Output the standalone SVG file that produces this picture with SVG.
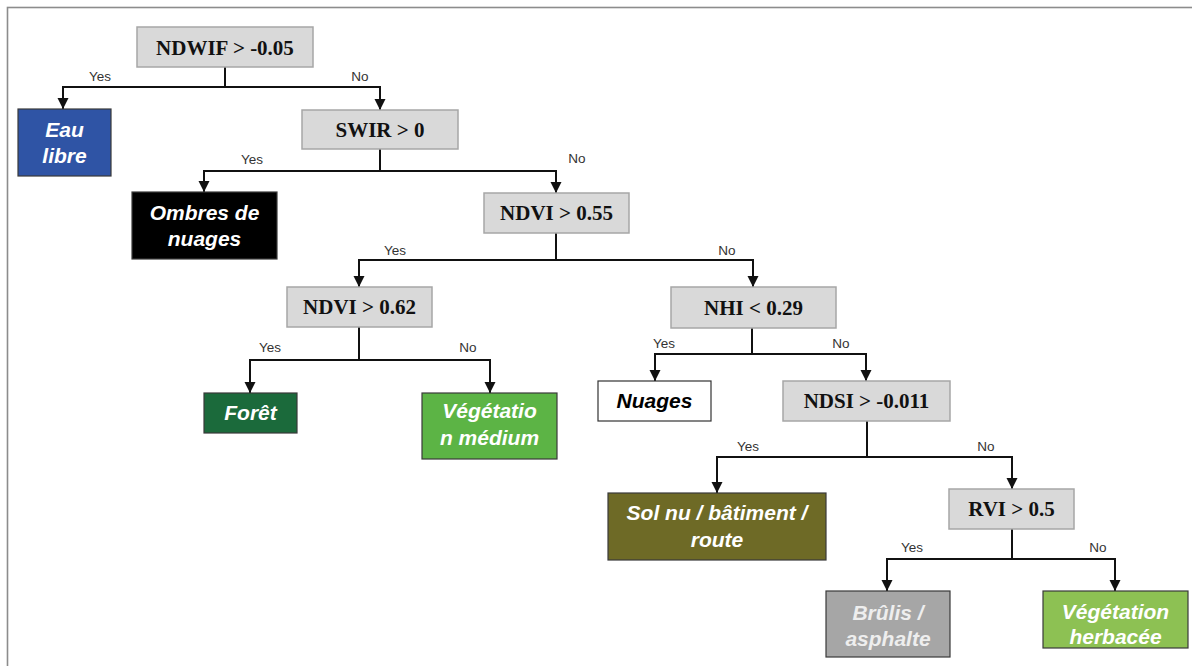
<svg xmlns="http://www.w3.org/2000/svg" width="1192" height="666" viewBox="0 0 1192 666">
<style>
.dec{fill:#d9d9d9;stroke:#a6a6a6;stroke-width:1.5}
.dt{font-family:"Liberation Serif",serif;font-weight:bold;font-size:21px;fill:#111;text-anchor:middle}
.lt{font-family:"Liberation Sans",Arial,sans-serif;font-weight:bold;font-style:italic;font-size:21px;fill:#fff;text-anchor:middle}
.leaf{stroke:#3a3a3a;stroke-width:1.2}
.yn{font-family:"Liberation Sans",Arial,sans-serif;font-size:13.5px;fill:#333;text-anchor:middle}
.c{fill:none;stroke:#111;stroke-width:2}
</style>
<defs>
<marker id="ah" markerUnits="userSpaceOnUse" markerWidth="12" markerHeight="12" refX="11" refY="6" orient="auto">
<path d="M0,0.5 L11,6 L0,11.5 z" fill="#111"/>
</marker>
</defs>
<rect x="0" y="0" width="1192" height="666" fill="#fff"/>
<rect x="7.5" y="7.5" width="1200" height="700" fill="none" stroke="#8c8c8c" stroke-width="1.6"/>

<g id="connectors">
<path class="c" d="M225,67 V87"/>
<path class="c" d="M225,87 H63 V109" marker-end="url(#ah)"/>
<path class="c" d="M225,87 H380 V110" marker-end="url(#ah)"/>
<path class="c" d="M380,149 V171"/>
<path class="c" d="M380,171 H204 V192" marker-end="url(#ah)"/>
<path class="c" d="M380,171 H556 V193" marker-end="url(#ah)"/>
<path class="c" d="M556,233 V260"/>
<path class="c" d="M556,260 H359 V287" marker-end="url(#ah)"/>
<path class="c" d="M556,260 H753 V287" marker-end="url(#ah)"/>
<path class="c" d="M359,327 V360"/>
<path class="c" d="M359,360 H250 V393" marker-end="url(#ah)"/>
<path class="c" d="M359,360 H490 V393" marker-end="url(#ah)"/>
<path class="c" d="M752,328 V354"/>
<path class="c" d="M752,354 H655 V381" marker-end="url(#ah)"/>
<path class="c" d="M752,354 H866 V381" marker-end="url(#ah)"/>
<path class="c" d="M867,421 V457"/>
<path class="c" d="M867,457 H717 V493" marker-end="url(#ah)"/>
<path class="c" d="M867,457 H1012 V489" marker-end="url(#ah)"/>
<path class="c" d="M1012,529 V559"/>
<path class="c" d="M1012,559 H887 V591" marker-end="url(#ah)"/>
<path class="c" d="M1012,559 H1115 V591" marker-end="url(#ah)"/>
<text class="yn" x="100" y="81">Yes</text>
<text class="yn" x="360" y="81">No</text>
<text class="yn" x="252" y="164">Yes</text>
<text class="yn" x="577" y="163">No</text>
<text class="yn" x="395" y="255">Yes</text>
<text class="yn" x="727" y="255">No</text>
<text class="yn" x="270" y="352">Yes</text>
<text class="yn" x="468" y="352">No</text>
<text class="yn" x="664" y="348">Yes</text>
<text class="yn" x="841" y="348">No</text>
<text class="yn" x="748" y="451">Yes</text>
<text class="yn" x="986" y="451">No</text>
<text class="yn" x="912" y="552">Yes</text>
<text class="yn" x="1098" y="552">No</text>
</g>

<g id="n-ndwif"><rect class="dec" x="137" y="27" width="176" height="40"/><text class="dt" x="225" y="55">NDWIF &gt; -0.05</text></g>
<g id="n-eau"><rect class="leaf" x="18" y="109" width="93" height="67" fill="#2f54a5"/><text class="lt" x="64.5" y="137">Eau</text><text class="lt" x="64.5" y="163">libre</text></g>
<g id="n-swir"><rect class="dec" x="302" y="110" width="156" height="39"/><text class="dt" x="380" y="137">SWIR &gt; 0</text></g>
<g id="n-ombres"><rect class="leaf" x="132" y="192" width="145" height="67" fill="#000"/><text class="lt" x="204.5" y="220">Ombres de</text><text class="lt" x="204.5" y="246">nuages</text></g>
<g id="n-ndvi055"><rect class="dec" x="484" y="193" width="145" height="40"/><text class="dt" x="556.5" y="220">NDVI &gt; 0.55</text></g>
<g id="n-ndvi062"><rect class="dec" x="287" y="287" width="145" height="40"/><text class="dt" x="359.5" y="314">NDVI &gt; 0.62</text></g>
<g id="n-foret"><rect class="leaf" x="204" y="393" width="93" height="40" fill="#1b6a3b"/><text class="lt" x="250.5" y="420">Forêt</text></g>
<g id="n-vegmed"><rect class="leaf" x="422" y="393" width="135" height="66" fill="#5cb445"/><text class="lt" x="489.5" y="418">Végétatio</text><text class="lt" x="489.5" y="445">n médium</text></g>
<g id="n-nhi"><rect class="dec" x="671" y="287" width="165" height="41"/><text class="dt" x="753.5" y="315">NHI &lt; 0.29</text></g>
<g id="n-nuages"><rect x="598" y="381" width="113" height="40" fill="#fff" stroke="#333" stroke-width="1.2"/><text class="lt" x="654.5" y="408" style="fill:#000">Nuages</text></g>
<g id="n-ndsi"><rect class="dec" x="783" y="381" width="167" height="40"/><text class="dt" x="866.5" y="408">NDSI &gt; -0.011</text></g>
<g id="n-sol"><rect class="leaf" x="608" y="493" width="218" height="67" fill="#6e6a26"/><text class="lt" x="717" y="520">Sol nu / bâtiment /</text><text class="lt" x="717" y="547">route</text></g>
<g id="n-rvi"><rect class="dec" x="949" y="489" width="125" height="40"/><text class="dt" x="1011.5" y="516">RVI &gt; 0.5</text></g>
<g id="n-brulis"><rect class="leaf" x="826" y="591" width="124" height="66" fill="#a6a6a6"/><text class="lt" x="888" y="620" style="fill:#eeeeee">Brûlis /</text><text class="lt" x="888" y="646" style="fill:#eeeeee">asphalte</text></g>
<g id="n-vegherb"><rect class="leaf" x="1043" y="591" width="145" height="57" fill="#8dc153"/><text class="lt" x="1115.5" y="619">Végétation</text><text class="lt" x="1115.5" y="644">herbacée</text></g>
</svg>
